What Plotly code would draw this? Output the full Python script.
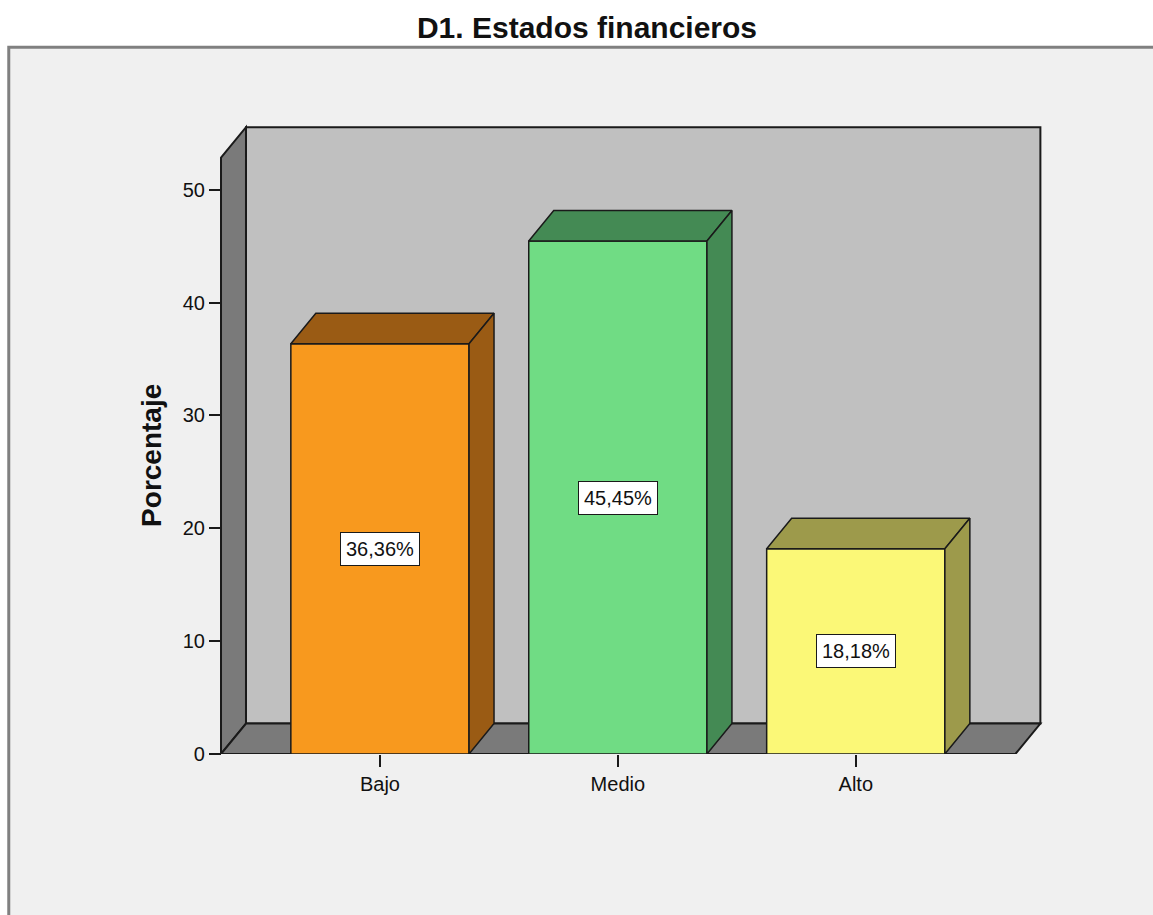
import plotly.graph_objects as go

# ---------------- data ----------------
categories = ["Bajo", "Medio", "Alto"]
percentages = [36.36, 45.45, 18.18]
bar_labels = ["36,36%", "45,45%", "18,18%"]
front_colors = ["#F8991E", "#70DC84", "#FBF877"]
side_colors = ["#9A5B14", "#448A54", "#9D9A4B"]
y_ticks = [0, 10, 20, 30, 40, 50]
title_text = "D1. Estados financieros"
y_title = "Porcentaje"

# ---------------- layout geometry ----------------
W, H = 1153, 915
ML, MR, MT, MB = 200, 94.7, 122.3, 161
PW = W - ML - MR
PH = H - MT - MB
X_RANGE = [-0.7563, 2.85]
Y_RANGE = [0, 56]

def px_x(p):
    return (p - ML) / PW

def px_y(p):
    return (H - MB - p) / PH

# pseudo-3D box
BAR_W = 0.749
DX, DY = 0.105, 2.7
FX0, FX1 = -0.668, 2.671
WALL_H = 52.84
EDGE = "#1a1a1a"
FONT = "Liberation Sans, Arial, sans-serif"

fig = go.Figure()

shapes = []
# outer frame
shapes.append(dict(type="rect", xref="paper", yref="paper",
                   x0=px_x(8.7), x1=px_x(1175), y0=px_y(47.5), y1=px_y(940),
                   fillcolor="#F0F0F0", line=dict(color="#808080", width=3), layer="below"))

def path(pts):
    return "M " + " L ".join(f"{x},{y}" for x, y in pts) + " Z"

# back wall
shapes.append(dict(type="path", xref="x", yref="y", layer="below",
                   path=path([(FX0 + DX, DY), (FX1 + DX, DY), (FX1 + DX, WALL_H + DY), (FX0 + DX, WALL_H + DY)]),
                   fillcolor="#C0C0C0", line=dict(color=EDGE, width=2)))
# left wall
shapes.append(dict(type="path", xref="x", yref="y", layer="below",
                   path=path([(FX0, 0), (FX0 + DX, DY), (FX0 + DX, WALL_H + DY), (FX0, WALL_H)]),
                   fillcolor="#7A7A7A", line=dict(color=EDGE, width=2)))
# floor
shapes.append(dict(type="path", xref="x", yref="y", layer="below",
                   path=path([(FX0, 0), (FX1, 0), (FX1 + DX, DY), (FX0 + DX, DY)]),
                   fillcolor="#7A7A7A", line=dict(color=EDGE, width=2)))

xs = list(range(len(categories)))

fig.add_trace(go.Bar(x=xs, y=percentages, width=BAR_W,
                     marker=dict(color=front_colors, line=dict(color=EDGE, width=1.5)),
                     hoverinfo="skip", showlegend=False))

for i, v in enumerate(percentages):
    xl, xr = xs[i] - BAR_W / 2, xs[i] + BAR_W / 2
    top = [(xl, v), (xl + DX, v + DY), (xr + DX, v + DY), (xr, v), (xl, v)]
    side = [(xr, 0), (xr + DX, DY), (xr + DX, v + DY), (xr, v), (xr, 0)]
    for poly in (top, side):
        fig.add_trace(go.Scatter(x=[p[0] for p in poly], y=[p[1] for p in poly],
                                 mode="lines", fill="toself", fillcolor=side_colors[i],
                                 line=dict(color=EDGE, width=1.5),
                                 hoverinfo="skip", showlegend=False))

annotations = []
for i, v in enumerate(percentages):
    annotations.append(dict(x=xs[i], y=v / 2, xref="x", yref="y", text=bar_labels[i],
                            showarrow=False, bgcolor="white", bordercolor=EDGE,
                            borderwidth=1, borderpad=5,
                            font=dict(family=FONT, size=20, color="#111")))

annotations.append(dict(x=px_x(152), y=px_y(456), xref="paper", yref="paper",
                        xanchor="center", yanchor="middle",
                        text=y_title, textangle=-90, showarrow=False,
                        font=dict(family=FONT, size=28, color="#111", weight="bold")))

fig.update_layout(
    width=W, height=H, autosize=False,
    margin=dict(l=ML, r=MR, t=MT, b=MB, pad=0),
    paper_bgcolor="white", plot_bgcolor="rgba(0,0,0,0)",
    title=dict(text=title_text, x=587 / W, xref="container", xanchor="center",
               y=1 - 27 / H, yref="container", yanchor="middle",
               font=dict(family=FONT, size=30, color="#111", weight="bold")),
    shapes=shapes, annotations=annotations,
    xaxis=dict(range=X_RANGE, tickvals=xs, ticktext=categories, ticks="outside",
               ticklen=12, tickwidth=1.5, tickcolor=EDGE, showline=False,
               showgrid=False, zeroline=False,
               tickfont=dict(family=FONT, size=20, color="#111")),
    yaxis=dict(range=Y_RANGE, tickvals=y_ticks, ticks="outside", ticklen=12,
               tickwidth=1.5, tickcolor=EDGE, showline=False, showgrid=False,
               zeroline=False, anchor="free", position=px_x(221),
               tickfont=dict(family=FONT, size=20, color="#111")),
    showlegend=False,
)

fig.write_html("out.html", config={"displayModeBar": False},
               post_script="document.body.style.margin='0';document.body.style.overflow='hidden';")
